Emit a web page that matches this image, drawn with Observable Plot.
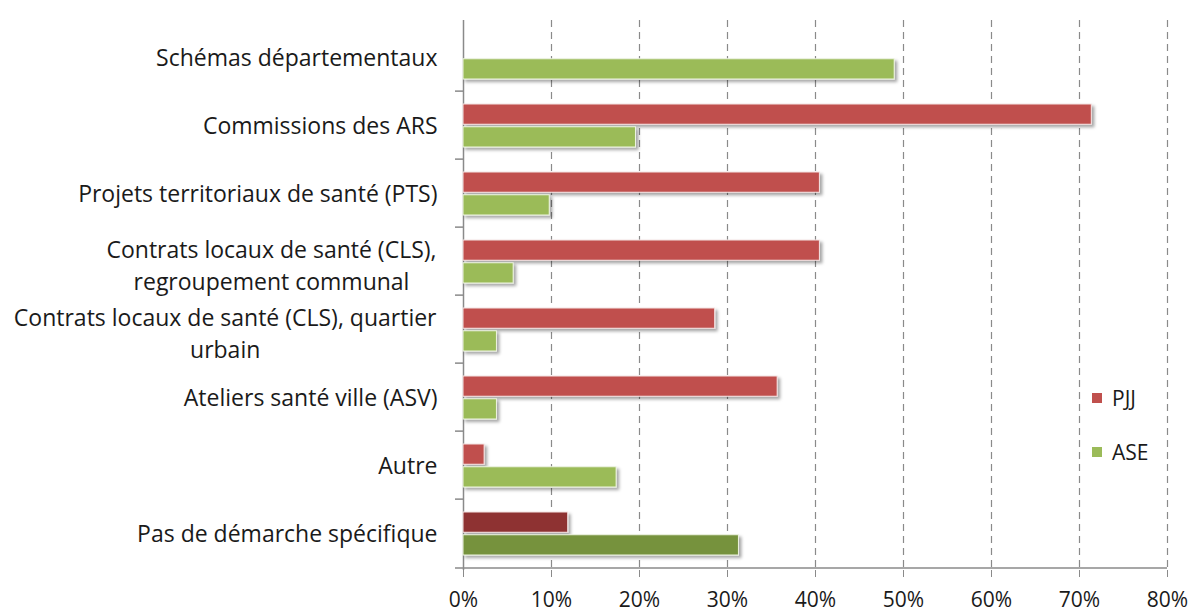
<!DOCTYPE html>
<html><head><meta charset="utf-8">
<script src="https://cdn.jsdelivr.net/npm/d3@7"></script>
<script src="https://cdn.jsdelivr.net/npm/@observablehq/plot@0.6"></script>
<style>
body{margin:0;background:#fff;}
#wrap{position:relative;width:1200px;height:615px;overflow:hidden;}
.lg{position:absolute;left:1092px;height:24px;display:flex;align-items:center;font:21px "Open Sans",sans-serif;color:#1a1a1a;}
.lg i{display:inline-block;width:10px;height:10px;margin-right:10px;}
</style></head><body><div id="wrap"></div>
<script>
// ---- data ----
const categories = [
  "Schémas départementaux",
  "Commissions des ARS",
  "Projets territoriaux de santé (PTS)",
  "Contrats locaux de santé (CLS),\nregroupement communal",
  "Contrats locaux de santé (CLS), quartier\nurbain",
  "Ateliers santé ville (ASV)",
  "Autre",
  "Pas de démarche spécifique"
];
const seriesNames = ["PJJ", "ASE"];
const pjjValues = [null, 71.4, 40.5, 40.5, 28.6, 35.7, 2.4, 11.9];
const aseValues = [49.0, 19.6, 9.8, 5.7, 3.8, 3.8, 17.4, 31.3];
const xTicks = [0, 10, 20, 30, 40, 50, 60, 70, 80];
const seriesColors = {PJJ: "#C0504D", ASE: "#9BBB59"};
const highlightColors = {PJJ: "#8E3330", ASE: "#76923C"};
const highlightCategory = "Pas de démarche spécifique";

// ---- table ----
const rows = [];
categories.forEach((c, i) => {
  if (pjjValues[i] != null) rows.push({category: c, series: "PJJ", value: pjjValues[i]});
  if (aseValues[i] != null) rows.push({category: c, series: "ASE", value: aseValues[i]});
});

const W = 1200, H = 615, mL = 463, mR = 33, mT = 20, mB = 45;
const band = (H - mT - mB) / categories.length;
const barH = 21;
const fnt = '"Open Sans", sans-serif';
const labelSize = 23;
const fillOf = d => d.category === highlightCategory ? highlightColors[d.series] : seriesColors[d.series];

const ctx = document.createElement("canvas").getContext("2d");
ctx.font = `${labelSize}px ${fnt}`;
const single = categories.filter(c => !c.includes("\n"));
const multi = categories.filter(c => c.includes("\n"));

const labelMarks = [
  Plot.text(single, {y: d => d, frameAnchor: "left", text: d => d, textAnchor: "end", dx: -26, dy: 1, fontSize: labelSize, fill: "#1a1a1a"}),
  ...multi.map(c => {
    const w = Math.max(...c.split("\n").map(s => ctx.measureText(s).width));
    return Plot.text([c], {y: d => d, frameAnchor: "left", text: d => d, textAnchor: "middle", dx: -(27 + w / 2), dy: 2, lineHeight: 1.4, fontSize: labelSize, fill: "#1a1a1a"});
  })
];

const chart = Plot.plot({
  width: W, height: H,
  marginLeft: mL, marginRight: mR, marginTop: mT, marginBottom: mB,
  style: {fontFamily: fnt, fontSize: "21px", color: "#1a1a1a", background: "#fff", overflow: "visible"},
  x: {domain: [0, 80], axis: null},
  y: {domain: categories, padding: 0, axis: null},
  marks: [
    Plot.ruleX(xTicks.slice(1), {stroke: "#8a8a8a", strokeDasharray: "7,5", strokeWidth: 1.2}),
    Plot.ruleX([0], {stroke: "#8a8a8a", strokeWidth: 1.5}),
    Plot.ruleY(categories.slice(1), {y: d => d, x1: 0, x2: 0, insetLeft: -8, dy: -band / 2, stroke: "#8a8a8a", strokeWidth: 1.5}),
    Plot.ruleY(categories.slice(-1), {y: d => d, x1: 0, x2: 80, insetLeft: -8, dy: band / 2, stroke: "#8a8a8a", strokeWidth: 1.5}),
    Plot.axisX({ticks: xTicks, tickFormat: d => d + "%", tickSize: 7, tickPadding: 15, stroke: "#8a8a8a", fill: "#1a1a1a", fontSize: 21, label: null}),
    Plot.barX(rows.filter(d => d.series === "PJJ"), {y: "category", x: "value", fill: fillOf, insetTop: 13, insetBottom: band - 13 - barH, stroke: "#f4e4e4", strokeWidth: 1}),
    Plot.barX(rows.filter(d => d.series === "ASE"), {y: "category", x: "value", fill: fillOf, insetTop: band - 12 - barH, insetBottom: 12, stroke: "#eef4e2", strokeWidth: 1}),
    ...labelMarks
  ]
});

// drop shadow on bars
const svg = d3.select(chart);
const defs = svg.insert("defs", ":first-child");
defs.append("filter").attr("id", "shadow").attr("x", "-5%").attr("y", "-30%").attr("width", "115%").attr("height", "180%")
  .append("feDropShadow").attr("dx", 2.5).attr("dy", 2.5).attr("stdDeviation", 1.5).attr("flood-color", "#000").attr("flood-opacity", 0.35);
svg.selectAll('g[aria-label="bar"]').attr("filter", "url(#shadow)");

const wrap = document.getElementById("wrap");
wrap.appendChild(chart);
seriesNames.forEach((s, i) => {
  const el = document.createElement("div");
  el.className = "lg";
  el.style.top = (386 + i * 54) + "px";
  el.innerHTML = `<i style="background:${seriesColors[s]}"></i>${s}`;
  wrap.appendChild(el);
});
</script></body></html>
